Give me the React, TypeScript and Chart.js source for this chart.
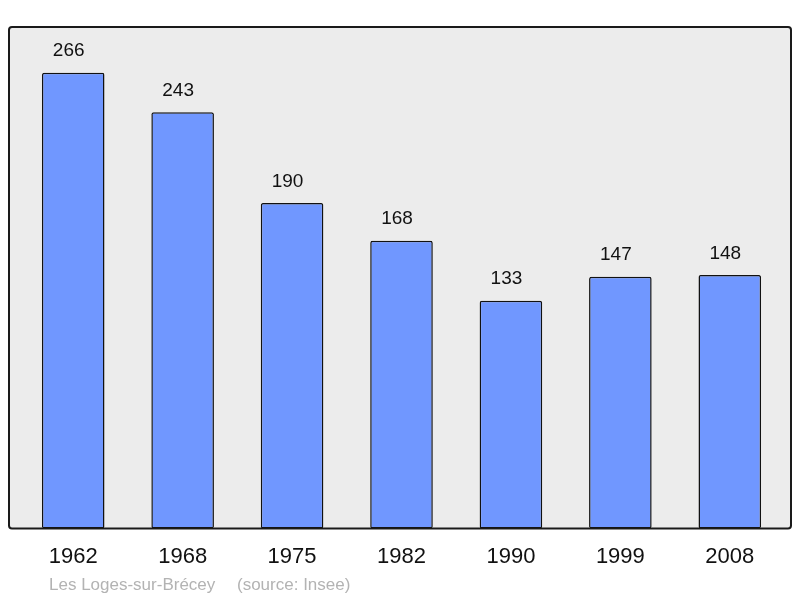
import React, { useEffect, useRef } from "react";
import { Chart, registerables } from "chart.js";

Chart.register(...registerables);

const years = ["1962", "1968", "1975", "1982", "1990", "1999", "2008"];
const population = [266, 243, 190, 168, 133, 147, 148];
const yMax = 292.7;
const sourceLabel = "Les Loges-sur-Brécey";
const sourceNote = "(source: Insee)";

const FONT = "'Liberation Sans', Arial, sans-serif";

function framePath(ctx: CanvasRenderingContext2D, x0: number, y0: number, x1: number, y1: number, r: number) {
  ctx.beginPath();
  ctx.moveTo(x0 + r, y0);
  ctx.lineTo(x1 - r, y0);
  ctx.arcTo(x1, y0, x1, y0 + r, r);
  ctx.lineTo(x1, y1 - r);
  ctx.arcTo(x1, y1, x1 - r, y1, r);
  ctx.lineTo(x0 + r, y1);
  ctx.arcTo(x0, y1, x0, y1 - r, r);
  ctx.lineTo(x0, y0 + r);
  ctx.arcTo(x0, y0, x0 + r, y0, r);
  ctx.closePath();
}

const framePlugin = {
  id: "frame",
  beforeDraw(chart: any) {
    const { ctx, chartArea } = chart;
    ctx.save();
    framePath(ctx, chartArea.left - 9.5, chartArea.top, chartArea.right + 6.5, chartArea.bottom, 3);
    ctx.fillStyle = "#ececec";
    ctx.fill();
    ctx.restore();
  },
  afterDatasetsDraw(chart: any) {
    const { ctx, chartArea } = chart;
    const x0 = chartArea.left - 9.5;
    ctx.save();
    framePath(ctx, x0, chartArea.top, chartArea.right + 6.5, chartArea.bottom, 3);
    ctx.lineWidth = 2;
    ctx.strokeStyle = "#1a1a1a";
    ctx.stroke();

    const meta = chart.getDatasetMeta(0);
    ctx.fillStyle = "#111111";
    ctx.font = `19px ${FONT}`;
    ctx.textAlign = "center";
    ctx.textBaseline = "middle";
    meta.data.forEach((bar: any, i: number) => {
      ctx.fillText(String(population[i]), bar.x - 4.5, bar.y - 21.5);
    });

    ctx.fillStyle = "#b3b3b3";
    ctx.font = `17px ${FONT}`;
    ctx.textAlign = "left";
    ctx.textBaseline = "alphabetic";
    ctx.fillText(sourceLabel, x0 + 40, 590);
    ctx.fillText(sourceNote, x0 + 228, 590);
    ctx.restore();
  },
};

export default function App() {
  const ref = useRef<HTMLCanvasElement | null>(null);

  useEffect(() => {
    document.body.style.margin = "0";
    const canvas = ref.current;
    if (!canvas) return;
    const chart = new Chart(canvas, {
      type: "bar",
      data: {
        labels: years,
        datasets: [
          {
            data: population,
            backgroundColor: "#7097ff",
            borderColor: "#111111",
            borderWidth: 1.5,
            borderRadius: 2,
            borderSkipped: false,
            categoryPercentage: 1,
            barPercentage: 0.572,
          },
        ],
      },
      options: {
        animation: false,
        responsive: false,
        maintainAspectRatio: false,
        devicePixelRatio: 1,
        layout: { padding: { left: 18.5, right: 15.5, top: 27, bottom: 12 } },
        plugins: {
          legend: { display: false },
          tooltip: { enabled: false },
          title: { display: false },
        },
        scales: {
          x: {
            offset: true,
            grid: { display: false, drawTicks: false },
            border: { display: false },
            ticks: {
              color: "#111111",
              font: { family: FONT, size: 22 },
              padding: 15.5,
              maxRotation: 0,
            },
          },
          y: {
            display: false,
            min: 0,
            max: yMax,
          },
        },
      },
      plugins: [framePlugin],
    });
    return () => chart.destroy();
  }, []);

  return (
    <div style={{ width: 800, height: 598 }}>
      <canvas ref={ref} width={800} height={598} style={{ display: "block", width: 800, height: 598 }} />
    </div>
  );
}
